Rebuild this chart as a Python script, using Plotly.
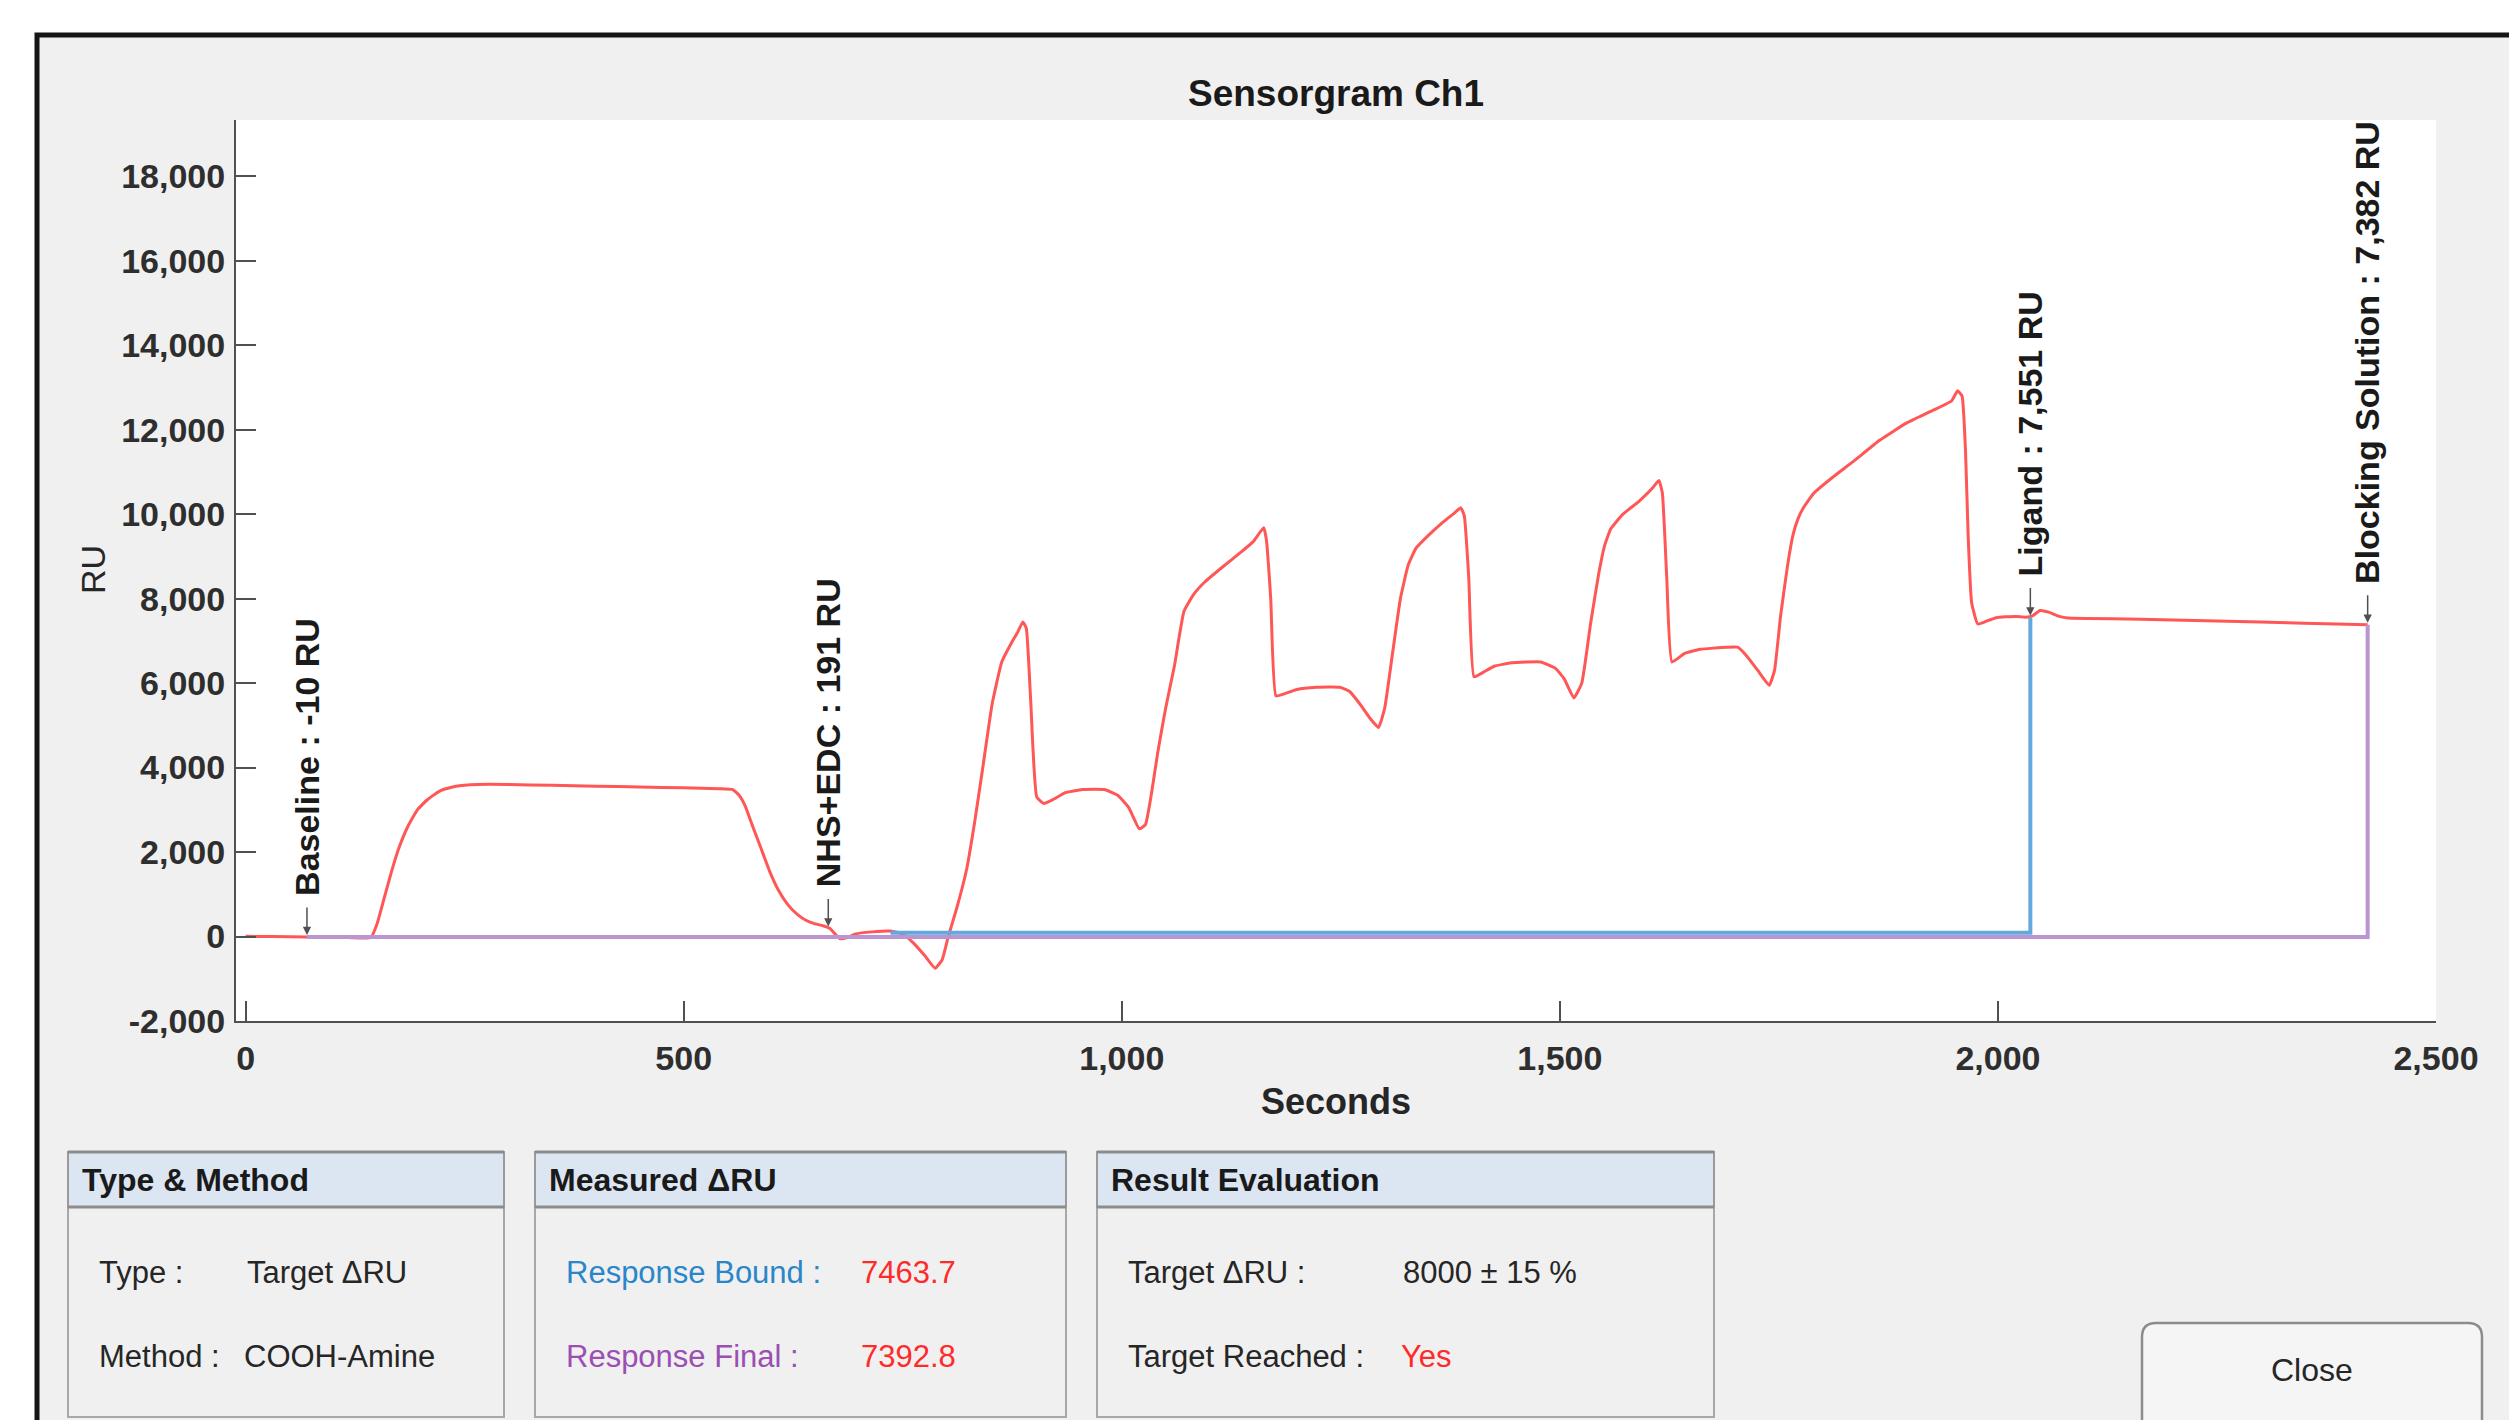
import plotly.graph_objects as go

# Sensorgram Ch1 - response trace (seconds, RU)
time_s = [0, 30, 70, 110, 143, 150, 158, 166, 175, 185, 196, 208, 222, 240, 265,
          300, 350, 400, 450, 500, 540, 556, 563, 570, 578, 588, 598, 608, 619, 630,
          640, 650, 660, 667, 672, 678, 686, 696, 715, 736, 750, 762, 775, 787, 795,
          802, 812, 823, 832, 841, 852, 863, 874, 881, 887, 891, 896, 903, 911, 922,
          935, 955, 980, 995, 1008, 1020, 1027, 1034, 1041, 1050, 1060, 1071, 1082, 1095, 1115,
          1136, 1150, 1162, 1165, 1170, 1176, 1186, 1200, 1222, 1249, 1260, 1272, 1284, 1293, 1300,
          1309, 1318, 1327, 1336, 1350, 1366, 1378, 1387, 1391, 1396, 1402, 1412, 1425, 1445, 1478,
          1495, 1505, 1516, 1525, 1535, 1544, 1551, 1558, 1572, 1590, 1605, 1613, 1617, 1622, 1628,
          1642, 1660, 1690, 1703, 1713, 1726, 1739, 1745, 1752, 1760, 1766, 1772, 1778, 1790, 1810,
          1835, 1865, 1895, 1925, 1947, 1954, 1959, 1963, 1966, 1970, 1977, 1985, 1998, 2020, 2032,
          2040, 2048, 2058, 2070, 2080, 2150, 2250, 2350, 2422]
ru_ch1 = [5, 0, -10, -15, -20, 300, 900, 1500, 2100, 2600, 3000, 3250, 3450, 3560, 3600,
          3600, 3580, 3560, 3540, 3520, 3500, 3480, 3350, 3100, 2650, 2100, 1550, 1100, 750, 520,
          380, 300, 250, 191, 80, -50, -30, 60, 110, 130, 60, -150, -450, -750, -550,
          0, 700, 1600, 2700, 3950, 5500, 6500, 6950, 7200, 7450, 7300, 5600, 3300, 3150, 3250,
          3400, 3480, 3480, 3350, 3050, 2550, 2650, 3400, 4350, 5400, 6400, 7700, 8100, 8400, 8750,
          9100, 9350, 9680, 9400, 8000, 5700, 5750, 5850, 5900, 5900, 5800, 5500, 5150, 4950, 5400,
          6700, 8000, 8800, 9200, 9500, 9800, 10000, 10150, 9950, 8500, 6150, 6250, 6400, 6480, 6500,
          6350, 6100, 5650, 6000, 7400, 8550, 9250, 9650, 10000, 10300, 10600, 10800, 10500, 8500, 6500,
          6700, 6800, 6850, 6850, 6650, 6300, 5950, 6300, 7600, 8800, 9500, 9900, 10150, 10500, 10850,
          11250, 11750, 12150, 12450, 12680, 12920, 12800, 11500, 9500, 7900, 7400, 7450, 7550, 7580, 7560,
          7600, 7720, 7680, 7580, 7540, 7520, 7470, 7420, 7382]

# event markers
event_t = [70, 665, 2037, 2422]
event_ru = [-10, 191, 7551, 7382]
event_labels = ["Baseline : -10 RU", "NHS+EDC : 191 RU",
                "Ligand : 7,551 RU", "Blocking Solution : 7,382 RU"]

# response bound / response final step lines
bound_t = [736, 2037, 2037]
bound_ru = [87, 87, 7551]
final_t = [70, 2422, 2422]
final_ru = [-10, -10, 7382]

x_ticks = [0, 500, 1000, 1500, 2000, 2500]
x_tick_labels = ["0", "500", "1,000", "1,500", "2,000", "2,500"]
y_ticks = [-2000, 0, 2000, 4000, 6000, 8000, 10000, 12000, 14000, 16000, 18000]
y_tick_labels = ["-2,000", "0", "2,000", "4,000", "6,000", "8,000",
                 "10,000", "12,000", "14,000", "16,000", "18,000"]

# info panel texts
type_method = [("Type :", "Target \u0394RU"), ("Method :", "COOH-Amine")]
measured = [("Response Bound :", "7463.7"), ("Response Final :", "7392.8")]
evaluation = [("Target \u0394RU :", "8000 \u00b1 15 %"), ("Target Reached :", "Yes")]

FONT = "Liberation Sans, Arial, sans-serif"
W, H = 2517, 1420
OFF = 8  # page body margin: figure sits 8px in from the window edge
# plot area in window pixels
P_LEFT, P_RIGHT, P_TOP, P_BOTTOM = 236, 2436, 120, 1021
ML, MT = P_LEFT - OFF, P_TOP - OFF
MR, MB = W - (P_RIGHT - OFF), H - (P_BOTTOM - OFF)
PW, PH = P_RIGHT - P_LEFT, P_BOTTOM - P_TOP


def px(x):
    return (x - P_LEFT) / PW


def py(y):
    return (P_BOTTOM - y) / PH


fig = go.Figure()
fig.add_trace(go.Scatter(x=time_s, y=ru_ch1, mode='lines',
                         line=dict(color='#ff5656', width=3, shape='spline', smoothing=0.4),
                         name='Ch1'))
fig.add_trace(go.Scatter(x=final_t, y=final_ru, mode='lines',
                         line=dict(color='#bb95d2', width=4), name='Response Final'))
fig.add_trace(go.Scatter(x=bound_t, y=bound_ru, mode='lines',
                         line=dict(color='#62a9dd', width=4), name='Response Bound'))

shapes = []
annotations = []

# outer window frame, then the white axes area on top of it
shapes.append(dict(type='rect', xref='paper', yref='paper', layer='below',
                   x0=px(37), x1=px(2514), y0=py(35), y1=py(1450),
                   line=dict(color='#151515', width=5), fillcolor='#f0f0f0'))
shapes.append(dict(type='rect', xref='paper', yref='paper', layer='below',
                   x0=0, x1=1, y0=0, y1=1, line=dict(width=0), fillcolor='white'))

# event arrows + rotated labels
for t, v, lab in zip(event_t, event_ru, event_labels):
    annotations.append(dict(x=t, y=v, xref='x', yref='y', text='', showarrow=True,
                            ax=0, ay=-31, arrowhead=2, arrowsize=1.1, arrowwidth=1.5,
                            arrowcolor='#505050', standoff=2))
    annotations.append(dict(x=t, y=v, xref='x', yref='y', text=lab, showarrow=False,
                            textangle=-90, xanchor='center', yanchor='bottom', yshift=39,
                            font=dict(family=FONT, size=34, color='#1a1a1a', weight='bold')))

# axis titles
annotations.append(dict(x=0.5, y=py(1101), xref='paper', yref='paper', text='Seconds',
                        showarrow=False, xanchor='center', yanchor='middle',
                        font=dict(family=FONT, size=36, color='#262626', weight='bold')))
annotations.append(dict(x=px(93), y=py(570), xref='paper', yref='paper', text='RU',
                        showarrow=False, textangle=-90, xanchor='center', yanchor='middle',
                        font=dict(family=FONT, size=34, color='#262626')))

# group boxes below the plot
boxes = [(68, 504, "Type & Method", type_method, [245, 242], None),
         (535, 1066, "Measured \u0394RU", measured, [859, 859], ['#2a86c8', '#9b4fb2']),
         (1097, 1714, "Result Evaluation", evaluation, [1401, 1399], None)]
for x0, x1, head, rows, vxs, lab_colors in boxes:
    shapes.append(dict(type='rect', xref='paper', yref='paper', layer='below',
                       x0=px(x0), x1=px(x1), y0=py(1207), y1=py(1417),
                       line=dict(color='#a8a8a8', width=2), fillcolor='#f0f0f0'))
    shapes.append(dict(type='rect', xref='paper', yref='paper', layer='below',
                       x0=px(x0), x1=px(x1), y0=py(1152), y1=py(1207),
                       line=dict(color='#9a9a9a', width=2), fillcolor='#dce6f2'))
    for yy in (1152, 1207):
        shapes.append(dict(type='line', xref='paper', yref='paper', layer='below',
                           x0=px(x0), x1=px(x1), y0=py(yy), y1=py(yy),
                           line=dict(color='#8c8c8c', width=3)))
    annotations.append(dict(x=px(x0 + 12), y=py(1180), xref='paper', yref='paper', text=head,
                            showarrow=False, xanchor='left', yanchor='middle',
                            font=dict(family=FONT, size=32, color='#1a1a1a', weight='bold')))
    lx = x0 + 29
    for i, ((lab, val), yy, vx) in enumerate(zip(rows, (1272, 1357), vxs)):
        lc = lab_colors[i] if lab_colors else '#262626'
        vc = '#ff2a2a' if (lab_colors or val == 'Yes') else '#262626'
        annotations.append(dict(x=px(lx), y=py(yy), xref='paper', yref='paper', text=lab,
                                showarrow=False, xanchor='left', yanchor='middle',
                                font=dict(family=FONT, size=31, color=lc)))
        annotations.append(dict(x=px(vx), y=py(yy), xref='paper', yref='paper', text=val,
                                showarrow=False, xanchor='left', yanchor='middle',
                                font=dict(family=FONT, size=31, color=vc)))

# Close button (rounded rectangle)
bx0, bx1, by0, by1 = px(2142), px(2482), py(1323), py(1450)
rx, ry = 14 / PW, 14 / PH
shapes.append(dict(type='path', xref='paper', yref='paper', layer='below',
                   path=(f"M {bx0+rx},{by0} L {bx1-rx},{by0} Q {bx1},{by0} {bx1},{by0-ry} "
                         f"L {bx1},{by1+ry} Q {bx1},{by1} {bx1-rx},{by1} L {bx0+rx},{by1} "
                         f"Q {bx0},{by1} {bx0},{by1+ry} L {bx0},{by0-ry} Q {bx0},{by0} {bx0+rx},{by0} Z"),
                   line=dict(color='#8c8c8c', width=2.5), fillcolor='#f5f5f5'))
annotations.append(dict(x=px(2312), y=py(1370), xref='paper', yref='paper', text='Close',
                        showarrow=False, xanchor='center', yanchor='middle',
                        font=dict(family=FONT, size=32, color='#262626')))

axis_common = dict(showline=True, linecolor='#505050', linewidth=2, ticks='inside',
                   ticklen=20, tickwidth=2, tickcolor='#505050', showgrid=False,
                   zeroline=False,
                   tickfont=dict(family=FONT, size=34, color='#2e2e2e', weight='bold'))

fig.update_layout(
    width=W, height=H, autosize=False,
    margin=dict(l=ML, r=MR, t=MT, b=MB, pad=0),
    paper_bgcolor='white', plot_bgcolor='white',
    showlegend=False, hovermode=False,
    title=dict(text='Sensorgram Ch1', x=0.5, xref='paper', xanchor='center',
               y=1 - (93 - OFF) / H, yref='container', yanchor='middle',
               font=dict(family=FONT, size=37, color='#1a1a1a', weight='bold')),
    xaxis=dict(range=[-11, 2500], tickvals=x_ticks, ticktext=x_tick_labels,
               ticklabelstandoff=6, **axis_common),
    yaxis=dict(range=[-2000, 19333], tickvals=y_ticks, ticktext=y_tick_labels,
               ticklabelstandoff=2, **axis_common),
    shapes=shapes, annotations=annotations,
)

fig.write_html("out.html")
